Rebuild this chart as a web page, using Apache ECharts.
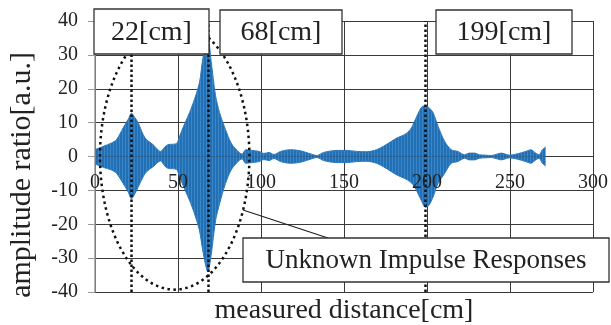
<!DOCTYPE html>
<html>
<head>
<meta charset="utf-8">
<script src="https://cdn.jsdelivr.net/npm/echarts@6/dist/echarts.min.js"></script>
<style>
html, body { margin: 0; padding: 0; background: #fff; }
#main { width: 611px; height: 325px; }
</style>
</head>
<body>
<div id="main"></div>
<script>
// 信号包络: 距离 / 上包络 / 下包络
var dist = [0, 5, 10, 13, 17, 20, 22, 24, 26, 29, 31, 35, 39.5, 42, 44, 49, 51, 53, 57, 60, 63, 65, 68, 70, 72.6, 75, 78.6, 82, 85.6, 88.6,
	90.8, 94.8, 98.8, 101.8, 104.8, 107.8, 111.8, 117.7, 123.7, 129.7, 133.7, 137.7, 145.7, 151.7, 157.7, 163.7, 169.6, 173.7,
	178.6, 182, 186.6, 190, 192.6, 196.6, 199, 201, 203.6, 206.6, 210.6, 214.6, 218.6, 222.6, 225.6, 228.6, 231.6, 235, 238.6,
	241.6, 244.6, 249.6, 254.6, 259.5, 262.5, 265.5, 267.5, 269.5, 271.5];
var upper = [2, 3, 4, 5, 8.5, 11, 12.8, 11.5, 10, 6.5, 5, 3.5, 1.5, 2.8, 3.5, 3.8, 6, 8.5, 13, 17, 22, 29, 35, 28, 18, 13, 8, 4, 1.8, 0.7,
	2, 1.8, 1.5, 0.9, 1.2, 0.6, 1.5, 2, 1.7, 0.8, 0.3, 1.2, 1.8, 1.8, 1.5, 1.4, 2, 3,
	4.5, 5.5, 6.5, 8, 10.5, 14.5, 15, 14.5, 13, 9, 4.5, 2, 1.5, 0.5, 1, 1, 0.5, 0.4, 0.3,
	0.6, 1, 0.4, 0.8, 1.5, 2, 1, 0.5, 2, 2.8];
var lower = [-2.2, -3.2, -4, -5, -8, -10.5, -12.5, -11, -9, -6, -4.5, -3, -1.3, -2.8, -3.5, -3.8, -6, -8.5, -13, -17, -22, -28, -34, -29, -19, -14, -8, -4, -1.8, -0.7,
	-2, -1.8, -1.5, -0.9, -1.2, -0.6, -1.5, -2, -1.7, -0.8, -0.3, -1.2, -1.8, -1.8, -1.5, -1.4, -2, -3,
	-4.5, -5.5, -6.5, -7.5, -9, -13, -15, -14.5, -12, -8, -5, -2, -1.5, -0.5, -1, -1, -0.5, -0.4, -0.3,
	-0.6, -1, -0.4, -0.8, -1.5, -2, -1, -0.5, -2, -2.8];
var xTicks = [0, 50, 100, 150, 200, 250, 300];
var yTicks = [-40, -30, -20, -10, 0, 10, 20, 30, 40];
var peakDist = [22, 68, 199];
var peakLabels = ['22[cm]', '68[cm]', '199[cm]'];

var upData = [], lowData = [];
for (var i = 0; i < dist.length; i++) {
	upData.push([dist[i], upper[i]]);
	lowData.push([dist[i], lower[i]]);
}
var peakLines = [];
for (var j = 0; j < peakDist.length; j++) {
	peakLines.push({ xAxis: peakDist[j] });
}

var serif = 'Liberation Serif';
var blue = '#2574b9';
var gridColor = '#3a3a3a';

// 细竖条纹, 模仿密集振荡
var stripe = document.createElement('canvas');
stripe.width = 3;
stripe.height = 4;
var sc = stripe.getContext('2d');
sc.fillStyle = '#216fb5';
sc.fillRect(0, 0, 3, 4);
sc.fillStyle = '#3d86c6';
sc.fillRect(2, 0, 1, 4);
var fillPattern = { image: stripe, repeat: 'repeat' };

var myChart = echarts.init(document.getElementById('main'));

var option = {
	animation: false,
	grid: { left: 95, right: 15, top: 21, bottom: 33 },
	xAxis: [{
		// 网格线
		type: 'value',
		min: xTicks[0],
		max: xTicks[xTicks.length - 1],
		interval: xTicks[1] - xTicks[0],
		axisLine: { show: false, onZero: false },
		axisTick: { show: false },
		axisLabel: { show: false },
		splitLine: { show: true, lineStyle: { color: gridColor, width: 1 } }
	}, {
		// 刻度文字, 在0线下方, 画在信号上面
		type: 'value',
		position: 'bottom',
		z: 10,
		min: xTicks[0],
		max: xTicks[xTicks.length - 1],
		interval: xTicks[1] - xTicks[0],
		axisLine: { show: false, onZero: false },
		axisTick: { show: false },
		splitLine: { show: false },
		axisLabel: { margin: 19, color: '#222', fontFamily: serif, fontSize: 20 }
	}],
	yAxis: {
		type: 'value',
		min: yTicks[0],
		max: yTicks[yTicks.length - 1],
		interval: yTicks[1] - yTicks[0],
		axisLine: { show: true, lineStyle: { color: '#999', width: 1.5 } },
		axisTick: { show: true, length: 7, lineStyle: { color: '#999' } },
		axisLabel: { margin: 17, color: '#222', fontFamily: serif, fontSize: 20 },
		splitLine: { show: true, lineStyle: { color: gridColor, width: 1 } }
	},
	series: [{
		type: 'line',
		data: upData,
		showSymbol: false,
		smooth: 0.3,
		lineStyle: { color: '#2a78bc', width: 1 },
		areaStyle: { color: fillPattern, opacity: 1, origin: 0 },
		markLine: {
			silent: true,
			symbol: 'none',
			label: { show: false },
			lineStyle: { color: '#111', width: 2.5, type: [2.5, 2.5] },
			data: peakLines
		},
		z: 2
	}, {
		type: 'line',
		data: lowData,
		showSymbol: false,
		smooth: 0.3,
		lineStyle: { color: '#2a78bc', width: 1 },
		areaStyle: { color: fillPattern, opacity: 1, origin: 0 },
		z: 2
	}]
};
myChart.setOption(option);

// 把刻度文字移到 y=0 线
var zeroY = myChart.convertToPixel({ yAxisIndex: 0 }, 0);
myChart.setOption({ xAxis: [{}, { offset: -(325 - 33 - zeroY) }] });

// 虚线椭圆 (圈住两个峰)
var c = myChart.convertToPixel({ gridIndex: 0 }, [48, 0]);
var r = myChart.convertToPixel({ gridIndex: 0 }, [93, 39.3]);

var boxes = [
	{ x: 94, y: 9, w: 115, h: 45 },
	{ x: 220, y: 10, w: 122, h: 44 },
	{ x: 436, y: 10, w: 136, h: 44 }
];
var graphics = [{
	type: 'ellipse',
	z: 100,
	silent: true,
	shape: { cx: c[0], cy: c[1], rx: r[0] - c[0], ry: c[1] - r[1] },
	style: { fill: null, stroke: '#111', lineWidth: 2.5, lineDash: [2.5, 3.5] }
}];
for (var k = 0; k < boxes.length; k++) {
	var b = boxes[k];
	graphics.push({
		type: 'rect', z: 110, silent: true,
		shape: { x: b.x, y: b.y, width: b.w, height: b.h },
		style: { fill: '#fff', stroke: '#333', lineWidth: 1.3 }
	});
	graphics.push({
		type: 'text', z: 111, silent: true,
		x: b.x + b.w / 2, y: b.y + b.h / 2 + 1,
		style: { text: peakLabels[k], font: '28px "' + serif + '"', fill: '#222', align: 'center', verticalAlign: 'middle' }
	});
}
// 引出线和说明框
graphics.push({
	type: 'line', z: 105, silent: true,
	shape: { x1: 243, y1: 210, x2: 328, y2: 238 },
	style: { stroke: '#222', lineWidth: 1.3 }
});
graphics.push({
	type: 'rect', z: 110, silent: true,
	shape: { x: 243, y: 238, width: 366, height: 44 },
	style: { fill: '#fff', stroke: '#333', lineWidth: 1.3 }
});
graphics.push({
	type: 'text', z: 111, silent: true,
	x: 426, y: 261,
	style: { text: 'Unknown Impulse Responses', font: '27px "' + serif + '"', fill: '#222', align: 'center', verticalAlign: 'middle' }
});
// 坐标轴标题
graphics.push({
	type: 'text', z: 111, silent: true,
	x: 344, y: 311,
	style: { text: 'measured distance[cm]', font: '28px "' + serif + '"', fill: '#222', align: 'center', verticalAlign: 'middle' }
});
graphics.push({
	type: 'text', z: 111, silent: true,
	x: 22, y: 175, rotation: Math.PI / 2,
	style: { text: 'amplitude ratio[a.u.]', font: '30px "' + serif + '"', fill: '#222', align: 'center', verticalAlign: 'middle' }
});
myChart.setOption({ graphic: graphics });
</script>
</body>
</html>
